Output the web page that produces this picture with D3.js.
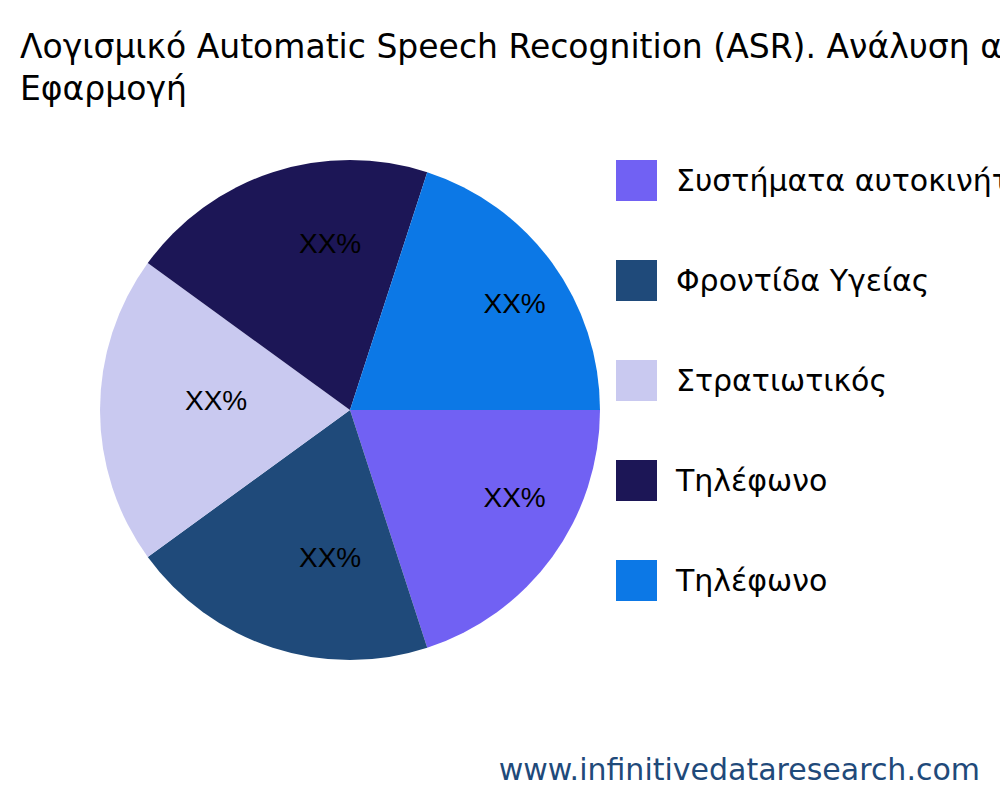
<!DOCTYPE html>
<html><head><meta charset="utf-8">
<script src="https://cdn.jsdelivr.net/npm/d3@7"></script>
<style>body{margin:0;overflow:hidden;background:#fff}</style>
</head><body>
<svg id="c" width="1000" height="800"></svg>
<script>
const categories = ["Συστήματα αυτοκινήτων", "Φροντίδα Υγείας", "Στρατιωτικός", "Τηλέφωνο", "Τηλέφωνο"];
const values = [20, 20, 20, 20, 20];
const labels = ["XX%", "XX%", "XX%", "XX%", "XX%"];
const colors = ["#7161F3", "#1F4A7A", "#C9C9F0", "#1C1656", "#0C78E6"];
const titleLines = ["Λογισμικό Automatic Speech Recognition (ASR). Ανάλυση αγοράς ανά", "Εφαρμογή"];

const svg = d3.select("#c");
const font = "'DejaVu Sans',sans-serif";
svg.selectAll("text.t").data(titleLines).join("text").attr("class","t")
  .attr("x",20).attr("y",(d,i)=>58+i*42).attr("font-family",font).attr("font-size",33).attr("fill","#000").text(d=>d);

const pie = d3.pie().sort(null).startAngle(Math.PI/2).endAngle(Math.PI/2+2*Math.PI);
const arcs = pie(values);
const arc = d3.arc().innerRadius(0).outerRadius(250);
const lab = d3.arc().innerRadius(165).outerRadius(165);
const g = svg.append("g").attr("transform","translate(350,410)");
g.selectAll("path").data(arcs).join("path").attr("d",arc).attr("fill",(d,i)=>colors[i]);
g.selectAll("text").data(arcs).join("text").attr("transform",d=>`translate(${lab.centroid(d)})`)
  .attr("text-anchor","start").attr("font-family","'Liberation Sans',Arial,sans-serif")
  .attr("font-size",28).attr("fill","#000").text((d,i)=>labels[i]);

const lg = svg.append("g");
categories.forEach((c,i)=>{
  lg.append("rect").attr("x",616).attr("y",160+i*100).attr("width",41).attr("height",41).attr("fill",colors[i]);
  lg.append("text").attr("x",676).attr("y",180+i*100).attr("dy","0.35em").attr("font-family",font)
    .attr("font-size",30).attr("fill","#000").text(c);
});
svg.append("text").attr("x",980).attr("y",780).attr("text-anchor","end").attr("font-family",font)
  .attr("font-size",30).attr("fill","#1F4A7A").text("www.infinitivedataresearch.com");
</script>
</body></html>
